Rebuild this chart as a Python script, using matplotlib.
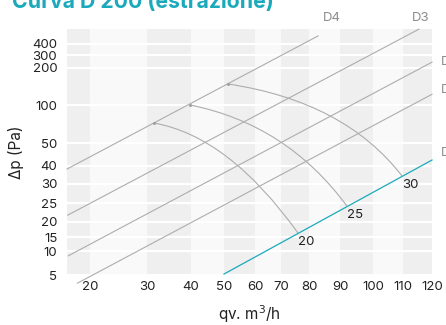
import numpy as np
import matplotlib
matplotlib.use("Agg")
import matplotlib.pyplot as plt
from matplotlib.path import Path
from matplotlib.patches import PathPatch

plt.rcParams['font.family'] = ['Inter', 'DejaVu Sans']

# tick values of the two (non uniform) nomogram axes
x_ticks = [20, 30, 40, 50, 60, 70, 80, 90, 100, 110, 120]
y_ticks = [5, 10, 15, 20, 25, 30, 40, 50, 100, 200, 300, 400]

# where the ticks sit along each axis (layout, in axis pixels)
x_tick_pos = [23, 80, 124, 157, 188, 214, 242, 273, 306, 336, 365]
y_tick_pos = [0, 24, 38, 53, 72, 91, 109, 132, 170, 207, 220, 231]

# straight system lines (qv in m3/h, dp in Pa)
line_names = ['D4', 'D3', 'D2', 'D1']
line_q_start = [15.96, 16.1, 16.2, 17.8]
line_p_start = [38.3, 21.8, 9.0, 3.3]
line_q_end = [82.9, 115.5, 120, 120]
line_p_end = [473, 535, 245, 129]

# teal line
teal_name = 'D0'
teal_q = [50, 120]
teal_p = [5.2, 42.6]

# fan curves: start, control, end (quadratic curve)
curve_labels = ['20', '25', '30']
curve_q = [[31.6, 51.6, 76.1], [39.8, 72.0, 92.1], [51.3, 91.4, 109.7]]
curve_p = [[76.3, 58.6, 16.3], [100, 74.6, 24.2], [156.8, 109.5, 34.4]]


def make_map(vals, pos):
    vals = np.asarray(vals, float)
    pos = np.asarray(pos, float)

    def conv(v, a, b):
        v = np.asarray(v, float)
        out = np.interp(v, a, b)
        out = np.where(v < a[0], b[0] + (v - a[0]) * (b[1] - b[0]) / (a[1] - a[0]), out)
        out = np.where(v > a[-1], b[-1] + (v - a[-1]) * (b[-1] - b[-2]) / (a[-1] - a[-2]), out)
        return out

    return (lambda v: conv(v, vals, pos)), (lambda p: conv(p, pos, vals))


fx, ix = make_map(x_ticks, x_tick_pos)
fy, iy = make_map(y_ticks, y_tick_pos)

fig = plt.figure(figsize=(4.46, 3.25), dpi=100)
ax = fig.add_axes([67 / 446, 50 / 325, 365 / 446, 246 / 325])
ax.set_xscale('function', functions=(fx, ix))
ax.set_yscale('function', functions=(fy, iy))
xmin, xmax = float(ix(0)), 120
ymin, ymax = 5, float(iy(246))
ax.set_xlim(xmin, xmax)
ax.set_ylim(ymin, ymax)

# alternating vertical bands
ax.set_facecolor('#f9f9f9')
edges = [xmin] + x_ticks
for i in range(len(edges) - 1):
    if i % 2 == 0:
        ax.axvspan(edges[i], edges[i + 1], color='#efefef', lw=0, zorder=0)
for v in y_ticks:
    ax.axhline(v, color='white', lw=1.6, zorder=1)

gray = '#adadad'
for i in range(len(line_names)):
    ax.plot([line_q_start[i], line_q_end[i]], [line_p_start[i], line_p_end[i]],
            color=gray, lw=0.8, clip_on=False, zorder=2)
ax.plot(teal_q, teal_p, color='#1aaabb', lw=0.9, clip_on=False, zorder=3)

for i in range(len(curve_labels)):
    verts = list(zip(curve_q[i], curve_p[i]))
    path = Path(verts, [Path.MOVETO, Path.CURVE3, Path.CURVE3])
    ax.add_patch(PathPatch(path, fill=False, edgecolor=gray, lw=0.8, zorder=2))
    ax.plot(curve_q[i][0], curve_p[i][0], 'o', ms=1.2, color='#a0a0a0', zorder=3)
    ax.annotate(curve_labels[i], (curve_q[i][-1], curve_p[i][-1]), xytext=(6, -6.5),
                textcoords='offset points', ha='center', va='center', fontsize=9.5,
                color='#222222')

# line names
dcol = '#8c8c8c'
ax.annotate(line_names[0], (line_q_end[0], line_p_end[0]), xytext=(10, 13),
            textcoords='offset points', ha='center', va='center', fontsize=9.5,
            color=dcol, annotation_clip=False)
ax.annotate(line_names[1], (line_q_end[1], line_p_end[1]), xytext=(1, 8),
            textcoords='offset points', ha='center', va='center', fontsize=9.5,
            color=dcol, annotation_clip=False)
ax.annotate(line_names[2], (line_q_end[2], line_p_end[2]), xytext=(6.5, 0),
            textcoords='offset points', ha='left', va='center', fontsize=9.5,
            color=dcol, annotation_clip=False)
ax.annotate(line_names[3], (line_q_end[3], line_p_end[3]), xytext=(6.5, 3),
            textcoords='offset points', ha='left', va='center', fontsize=9.5,
            color=dcol, annotation_clip=False)
ax.annotate(teal_name, (teal_q[-1], teal_p[-1]), xytext=(6.5, 5),
            textcoords='offset points', ha='left', va='center', fontsize=9.5,
            color=dcol, annotation_clip=False)

ax.set_xticks(x_ticks, labels=[str(v) for v in x_ticks])
ax.set_yticks(y_ticks, labels=[str(v) for v in y_ticks])
ax.minorticks_off()
ax.tick_params(axis='both', length=0, labelsize=9.5, colors='#222222')
ax.tick_params(axis='x', pad=4)
ax.tick_params(axis='y', pad=7)
for s in ax.spines.values():
    s.set_visible(False)

ax.set_xlabel('qv. m$^3$/h', fontsize=11, color='#222222', labelpad=8)
ax.set_ylabel('Δp (Pa)', fontsize=11, color='#222222', labelpad=6)

fig.text(12 / 446, 1 - 8 / 325, 'Curva D 200 (estrazione)', fontsize=15.3,
         fontweight='bold', color='#1aaabb', va='baseline')

fig.savefig('out.png', dpi=100)
